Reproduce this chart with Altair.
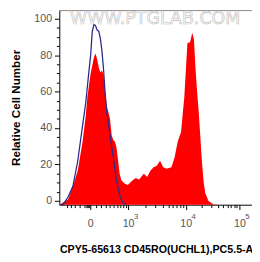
import altair as alt
import pandas as pd
import numpy as np

# ---- data (x in display units: 0 -> 0, one unit ~ one decade) ----
RED_X = [-0.557, -0.522, -0.470, -0.400, -0.313, -0.226, -0.139, -0.082, -0.052, 0.005,
         0.064, 0.092, 0.122, 0.151, 0.179, 0.209, 0.238, 0.266, 0.296, 0.325,
         0.353, 0.383, 0.412, 0.440, 0.470, 0.499, 0.527, 0.557, 0.614, 0.673,
         0.701, 0.760, 0.817, 0.875, 0.934, 0.962, 1.021, 1.078, 1.136, 1.195,
         1.252, 1.310, 1.369, 1.456, 1.513, 1.570, 1.630, 1.657, 1.687, 1.717,
         1.744, 1.791, 1.831, 1.861, 1.890, 1.918, 1.948, 1.974, 2.005, 2.035,
         2.064, 2.122, 2.209, 2.296, 2.904]
RED_Y = [-2.1, -1.6, -0.5, 0.7, 8.0, 16.6, 32.6, 46.8, 57.4, 69.8,
         78.7, 80.9, 77.8, 73.4, 70.7, 71.6, 69.0, 59.2, 52.1, 48.6,
         45.2, 36.2, 33.5, 32.6, 29.3, 22.0, 14.9, 11.3, 9.6, 8.7,
         9.6, 11.3, 12.6, 11.7, 14.0, 14.9, 13.1, 16.6, 18.5, 19.3,
         22.0, 18.5, 17.6, 18.5, 23.8, 32.6, 37.9, 47.0, 56.5, 72.5,
         86.7, 87.2, 92.4, 88.5, 72.5, 60.1, 48.4, 36.2, 21.3, 10.6,
         4.3, 0.0, -1.9, -2.1, -2.1]

BLUE_X = [-0.539, -0.487, -0.400, -0.313, -0.226, -0.139, -0.082, -0.023, 0.005, 0.035,
          0.064, 0.092, 0.122, 0.151, 0.179, 0.209, 0.238, 0.266, 0.296, 0.353,
          0.412, 0.470, 0.527, 0.586, 0.643]
BLUE_Y = [-2.1, -1.9, 2.1, 8.0, 21.9, 41.5, 53.9, 71.8, 79.8, 93.1,
          96.8, 96.4, 93.8, 93.2, 89.4, 82.4, 71.8, 59.2, 48.6, 36.2,
          24.0, 11.3, 3.3, -1.1, -2.1]

X_DOMAIN = [-0.557, 2.904]
Y_DOMAIN = [-2.1, 104.8]

X_MAJOR_POS = [0.0, 0.678, 1.713, 2.678]
X_MAJOR_BASE = ["0", "10", "10", "10"]
X_EXP_POS = [0.678, 1.713, 2.678]
X_EXP_TEXT = ["3", "4", "5"]
Y_MAJOR = [0, 20, 40, 60, 80, 100]
Y_MINOR = [v for v in range(0, 101, 5) if v % 20 != 0]

# minor ticks: log between decades, near-linear around zero
LIN_MINOR_RAW = [-500, -400, -300, -200, -100, -80, -60, -40, -20, 100, 200, 300, 400, 500, 600, 700, 800, 900]
def lin_pos(v):
    return 24.97 * np.arcsinh(v / 439.0) / 57.5
X_MINOR = [float(lin_pos(v)) for v in LIN_MINOR_RAW]
for a, b in [(X_MAJOR_POS[1], X_MAJOR_POS[2]), (X_MAJOR_POS[2], X_MAJOR_POS[3])]:
    for m in range(2, 10):
        X_MINOR.append(float(a + np.log10(m) * (b - a)))
X_MINOR = [p for p in X_MINOR if X_DOMAIN[0] <= p <= X_DOMAIN[1]]

WATERMARK = "WWW.PTGLAB.COM"
X_TITLE = "CPY5-65613 CD45RO(UCHL1),PC5.5-A"
Y_TITLE = "Relative Cell Number"

red = pd.DataFrame({"u": RED_X, "y": RED_Y})
blue = pd.DataFrame({"u": BLUE_X, "y": BLUE_Y})
wm = pd.DataFrame({"u": [1.165], "y": [100.0], "t": [WATERMARK]})
exps = pd.DataFrame({"u": X_EXP_POS, "t": X_EXP_TEXT})

xs = alt.Scale(domain=X_DOMAIN, nice=False, zero=False)
ys = alt.Scale(domain=Y_DOMAIN, nice=False, zero=False)


def make_expr(positions, labels):
    expr = "''"
    for p, l in reversed(list(zip(positions, labels))):
        expr = f"abs(datum.value - {p}) < 0.001 ? '{l}' : {expr}"
    return expr


FONT = "Liberation Sans"
LABEL_COLOR = "#555555"

wm_layer = alt.Chart(wm).mark_text(
    font="DejaVu Sans", fontSize=18, fill="white", stroke="#c4c4c4", strokeWidth=0.7,
    baseline="middle", align="center"
).encode(
    x=alt.X("u:Q", scale=xs, axis=alt.Axis(orient="top", ticks=False, labels=False, domain=True,
                                          domainColor="#888888", grid=False, title=None)),
    y=alt.Y("y:Q", scale=ys, axis=None),
    text="t:N",
)

red_layer = alt.Chart(red).mark_area(color="#ff0000", opacity=1).encode(
    x=alt.X("u:Q", scale=xs, axis=alt.Axis(
        orient="bottom", values=X_MAJOR_POS, labelExpr=make_expr(X_MAJOR_POS, X_MAJOR_BASE),
        grid=False, tickSize=5, tickColor="#000", domainColor="#000", labelColor=LABEL_COLOR,
        labelFont=FONT, labelFontSize=11, labelPadding=8, labelFlush=False, labelOverlap=False,
        title=X_TITLE, titleFont=FONT, titleFontSize=11, titleFontWeight="bold",
        titleColor="#000", titlePadding=16, titleX=100, titleAlign="center")),
    y=alt.Y("y:Q", scale=ys, axis=alt.Axis(
        orient="left", values=Y_MAJOR, grid=False, tickSize=5, tickColor="#000",
        domainColor="#000", labelColor=LABEL_COLOR, labelFont=FONT, labelFontSize=11,
        labelPadding=3, title=Y_TITLE, titleFont=FONT, titleFontSize=12,
        titleFontWeight="bold", titleColor="#000", titlePadding=12)),
    y2=alt.datum(Y_DOMAIN[0]),
)

blue_layer = alt.Chart(blue).mark_line(color="#2a2a8c", strokeWidth=1.3).encode(
    x=alt.X("u:Q", scale=xs, axis=alt.Axis(
        orient="bottom", values=X_MINOR, labels=False, domain=False, grid=False,
        tickSize=3, tickColor="#000", title=None)),
    y=alt.Y("y:Q", scale=ys, axis=alt.Axis(
        orient="left", values=Y_MINOR, labels=False, domain=False, grid=False,
        tickSize=3, tickColor="#000", title=None)),
)

# superscript exponents of the x tick labels (10^3, 10^4, 10^5)
exp_layer = alt.Chart(exps).mark_text(
    font=FONT, fontSize=8, color=LABEL_COLOR, align="left", baseline="alphabetic", dx=6
).encode(
    x=alt.X("u:Q", scale=xs, axis=None),
    y=alt.YDatum(-9.8, scale=ys, axis=None),
    text="t:N",
)

chart = alt.layer(wm_layer, red_layer, blue_layer, exp_layer).resolve_axis(
    x="independent", y="independent"
).properties(
    width=199, height=201,
    autosize=alt.AutoSizeParams(type="none"),
    padding={"left": 53, "top": -2, "right": 0, "bottom": 55},
).configure_view(stroke=None)

chart.save("out.html", embed_options={"renderer": "svg", "actions": False})
